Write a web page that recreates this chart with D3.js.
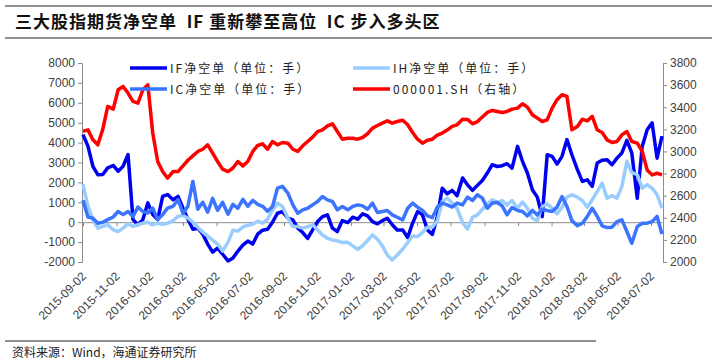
<!DOCTYPE html>
<html lang="zh">
	<head>
		<meta charset="utf-8">
		<title>三大股指期货净空单</title>
		<script type="text/javascript" src="https://cdn.jsdelivr.net/npm/d3@7/dist/d3.min.js"></script>
		<style type="text/css">
			body { margin: 0; background: #fff; }
			svg { display: block; }
			.tick text { font-family: "Liberation Sans", Arial, sans-serif; font-size: 12px; fill: #404040; }
			.domain, .tick line { stroke: #8c8c8c; }
		</style>
	</head>
	<body>
		<script type="text/javascript">
			//Width and height
			var w = 712;
			var h = 363;

			//Sampled dates: one point every ~9 days, 2015-09-02 to 2018-07-22
			var startDate = new Date(2015, 8, 2);
			var endDate = new Date(2018, 6, 22);
			var nPoints = 117;
			var dates = d3.range(nPoints).map(function(i) {
				return d3.timeDay.offset(startDate, Math.round(i * 1054 / (nPoints - 1)));
			});

			var tickLabels = ["2015-09-02", "2015-11-02", "2016-01-02", "2016-03-02", "2016-05-02", "2016-07-02",
							  "2016-09-02", "2016-11-02", "2017-01-02", "2017-03-02", "2017-05-02", "2017-07-02",
							  "2017-09-02", "2017-11-02", "2018-01-02", "2018-03-02", "2018-05-02", "2018-07-02"];

			//IF net short (lots)
			var ifShort = [4400, 3820, 2810, 2390, 2400, 2730, 2850, 2560, 2810, 3400,
						   130, -125, 130, 970, 380, 130, 1300, 1390, 1130, 1300,
						   700, 150, -350, -300, -600, -1100, -1500, -1300, -1600, -1950,
						   -1800, -1450, -1150, -950, -1100, -600, -400, -350, 0, 450,
						   530, 200, 120, -300, -520, -810, -390, 30, 280, 370,
						   -300, -470, 80, -20, 250, 150, 420, 320, 30, -80,
						   80, 200, -130, -390, -390, -770, -50, 530, 370, -390,
						   -610, 280, 1710, 1430, 1600, 1330, 2220, 1880, 1600, 1850,
						   2100, 2470, 2890, 2800, 2840, 2940, 2720, 3810, 3060, 2470,
						   1630, 1260, 280, 3390, 3310, 2920, 3310, 4150, 3390, 2640,
						   2050, 2130, 1800, 2970, 3110, 3140, 2890, 3220, 3480, 4110,
						   3480, 1200, 3810, 4650, 4990, 3220, 4320];

			//IH net short (lots)
			var ihShort = [1900, 800, 130, -300, -210, -130, -380, -470, -300, -80,
						   -210, -130, -50, 0, -130, -50, -110, -50, 70, 290,
						   350, 200, 0, -250, -500, -700, -900, -1100, -1450, -1000,
						   -400, -450, -250, -150, -100, 50, -50, 150, 620, 960,
						   790, 200, -220, -220, -300, -220, -130, -390, -640, -810,
						   -890, -940, -1020, -1010, -1190, -1360, -1190, -920, -640, -860,
						   -1190, -1650, -1900, -1650, -1360, -1020, -690, -720, -520, -250,
						   -250, 80, 1040, 1210, 960, 700, -20, -350, 250, 370,
						   650, 920, 1130, 990, 1090, 870, 1090, 700, 1010, 700,
						   200, 80, 790, 920, 700, 420, 750, 1260, 1380, 1260,
						   1090, 750, 1130, 1540, 1960, 1210, 1330, 1210, 1800, 3060,
						   2500, 2390, 1710, 1880, 1710, 1380, 700];

			//IC net short (lots)
			var icShort = [1100, 260, 200, -50, 0, 130, 260, 540, 380, 540,
						   290, 760, 540, 460, 710, 130, 380, 710, 800, 1130,
						   450, 800, 2050, 650, 1000, 500, 1200, 600, 1000, 400,
						   900, 700, 1150, 800, 1100, 900, 800, 550, 790, 1710,
						   1800, 1460, 870, 450, 620, 700, 870, 1040, 1290, 1120,
						   1040, 620, 790, 620, 790, 870, 820, 650, 960, 490,
						   540, 590, 370, 250, 120, 700, 960, 760, 590, 320,
						   230, 760, 960, 870, 760, 960, 870, 1260, 1090, 1380,
						   1210, 700, 960, 990, 820, 370, 740, 590, 540, 320,
						   590, 370, 650, 590, 540, 760, 1290, 790, 80, -180,
						   -50, 290, 700, 290, -180, -270, -250, 30, 120, -470,
						   -1060, -220, -50, -50, 30, 290, -600];

			//000001.SH close (right axis)
			var shIndex = [3181, 3195, 3105, 3060, 3200, 3407, 3383, 3558, 3588, 3528,
						   3453, 3437, 3558, 3603, 3165, 2909, 2818, 2758, 2818, 2818,
						   2870, 2920, 2960, 3000, 3020, 3060, 2984, 2909, 2840, 2818,
						   2850, 2909, 2870, 2909, 3000, 3054, 3069, 3020, 3090, 3060,
						   3081, 3075, 3020, 3000, 3051, 3090, 3130, 3180, 3196, 3232,
						   3250, 3180, 3111, 3120, 3120, 3111, 3126, 3160, 3211, 3235,
						   3256, 3277, 3256, 3271, 3283, 3241, 3172, 3111, 3075, 3102,
						   3111, 3147, 3166, 3193, 3226, 3241, 3292, 3290, 3250, 3270,
						   3311, 3353, 3371, 3362, 3353, 3362, 3383, 3392, 3431, 3401,
						   3332, 3301, 3271, 3286, 3392, 3468, 3513, 3498, 3196, 3226,
						   3292, 3277, 3317, 3196, 3172, 3105, 3081, 3090, 3150, 3180,
						   3090, 3075, 3000, 2833, 2788, 2803, 2788];

			var series = [
				{ name: "IF净空单（单位：手）", values: ifShort, color: "#0000f0", right: false },
				{ name: "IH净空单（单位：手）", values: ihShort, color: "#99ccff", right: false },
				{ name: "IC净空单（单位：手）", values: icShort, color: "#3a74ff", right: false },
				{ name: "000001.SH（右轴）", values: shIndex, color: "#ff0000", right: true }
			];

			var xScale = d3.scaleTime()
							.domain([startDate, endDate])
							.range([83, 662]);

			var yLeft = d3.scaleLinear()
							.domain([-2000, 8000])
							.range([262, 63]);

			var yRight = d3.scaleLinear()
							.domain([2000, 3800])
							.range([262, 63]);

			//Create SVG element
			var svg = d3.select("body")
						.append("svg")
						.attr("width", w)
						.attr("height", h);

			//Title and rules
			svg.append("line").attr("x1", 5).attr("x2", 712).attr("y1", 6).attr("y2", 6)
			   .attr("stroke", "#222").attr("stroke-width", 1);
			svg.append("line").attr("x1", 5).attr("x2", 712).attr("y1", 38).attr("y2", 38)
			   .attr("stroke", "#222").attr("stroke-width", 1);
			svg.append("text")
			   .attr("x", 15)
			   .attr("y", 28)
			   .attr("font-family", "Noto Sans CJK SC")
			   .attr("font-size", "17px")
			   .attr("font-weight", "bold")
			   .attr("letter-spacing", "1px")
			   .attr("fill", "#111")
			   .attr("xml:space", "preserve")
			   .text("三大股指期货净空单  IF 重新攀至高位  IC 步入多头区");

			//Axes
			svg.append("g")
			   .attr("transform", "translate(82,0)")
			   .call(d3.axisLeft(yLeft)
					.tickValues(d3.range(-2000, 8001, 1000))
					.tickSize(4)
					.tickFormat(function(d) { return d; }));

			svg.append("g")
			   .attr("transform", "translate(663,0)")
			   .call(d3.axisRight(yRight)
					.tickValues(d3.range(2000, 3801, 200))
					.tickSize(4)
					.tickFormat(function(d) { return d; }));

			var parseDate = d3.timeParse("%Y-%m-%d");
			var tickDates = tickLabels.map(parseDate);

			svg.append("g")
			   .attr("transform", "translate(0," + yLeft(0) + ")")
			   .call(d3.axisBottom(xScale)
					.tickValues(tickDates)
					.tickSize(4)
					.tickSizeOuter(0)
					.tickFormat(""));

			//Date labels at the bottom
			svg.selectAll("text.date")
			   .data(tickLabels)
			   .enter()
			   .append("text")
			   .attr("class", "date")
			   .attr("text-anchor", "end")
			   .attr("transform", function(d) {
					return "translate(" + (xScale(parseDate(d)) + 4) + ",277) rotate(-45)";
			   })
			   .attr("font-family", "Liberation Sans, Arial, sans-serif")
			   .attr("font-size", "12px")
			   .attr("fill", "#404040")
			   .text(function(d) { return d; });

			//Lines
			series.forEach(function(s) {
				var y = s.right ? yRight : yLeft;
				var line = d3.line()
							.x(function(d, i) { return xScale(dates[i]); })
							.y(function(d) { return y(d); });
				svg.append("path")
				   .datum(s.values)
				   .attr("fill", "none")
				   .attr("stroke", s.color)
				   .attr("stroke-width", 3.5)
				   .attr("stroke-linejoin", "round")
				   .attr("d", line);
			});

			//Legend
			var legendPos = [[130, 68], [353, 68], [130, 89], [353, 89]];
			var legend = svg.selectAll("g.legend")
							.data(series)
							.enter()
							.append("g")
							.attr("class", "legend")
							.attr("transform", function(d, i) {
								return "translate(" + legendPos[i][0] + "," + legendPos[i][1] + ")";
							});
			legend.append("line")
				  .attr("x1", 0).attr("x2", 37)
				  .attr("stroke", function(d) { return d.color; })
				  .attr("stroke-width", 3.5);
			legend.append("text")
				  .attr("x", 40)
				  .attr("y", 4.5)
				  .attr("font-family", "Noto Sans CJK SC")
				  .attr("font-size", "12px")
				  .attr("letter-spacing", "2px")
				  .attr("fill", "#222")
				  .text(function(d) { return d.name; });

			//Source
			svg.append("line").attr("x1", 5).attr("x2", 596).attr("y1", 341).attr("y2", 341)
			   .attr("stroke", "#222").attr("stroke-width", 1);
			svg.append("text")
			   .attr("x", 12)
			   .attr("y", 357)
			   .attr("font-family", "Noto Sans CJK SC")
			   .attr("font-size", "12px")
			   .attr("fill", "#222")
			   .text("资料来源：Wind，海通证券研究所");
		</script>
	</body>
</html>
